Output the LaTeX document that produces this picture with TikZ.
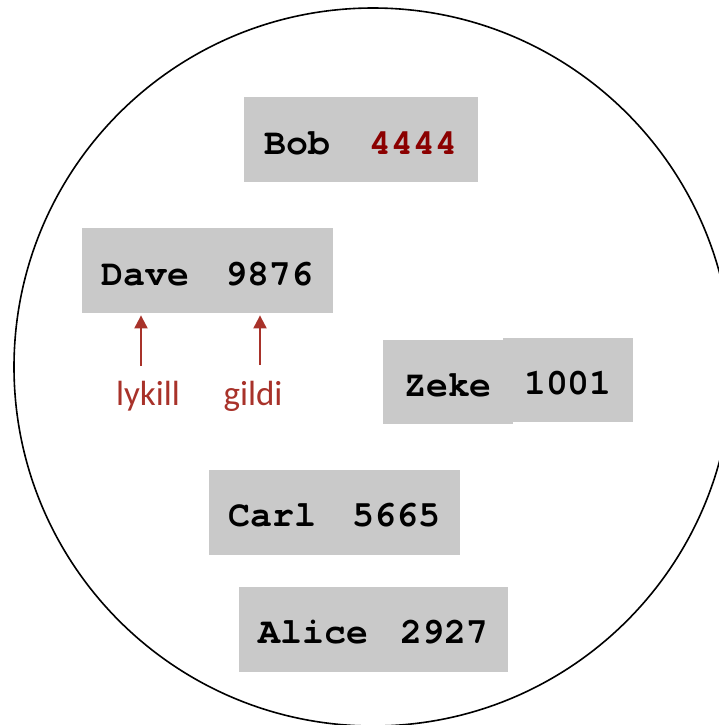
\documentclass[tikz,border=0pt]{standalone}
\usepackage{fontspec}
\setmonofont{texgyrecursor}[Extension=.otf, UprightFont=*-regular, BoldFont=*-bold]
\setsansfont{Carlito}
\usetikzlibrary{arrows.meta,positioning}

\definecolor{boxgray}{RGB}{201,201,201}
\definecolor{valred}{RGB}{139,0,0}
\definecolor{notered}{RGB}{168,50,42}

\begin{document}
\begin{tikzpicture}[
  x=0.5pt, y=-0.5pt,
  entry/.style={fill=boxgray, inner sep=0pt, minimum height=42.5pt,
                text height=14.5pt, text depth=0pt,
                font=\ttfamily\bfseries\fontsize{18.3pt}{22pt}\selectfont},
  note/.style={text=notered, inner sep=0pt, anchor=base,
               font=\sffamily\fontsize{17.5pt}{20pt}\selectfont},
  arrow/.style={-{Triangle[length=6.5pt,width=6.5pt]}, draw=notered, line width=1pt}
]
\useasboundingbox (0,0) rectangle (719,725);
\clip (0,0) rectangle (719,725);

% the set
\draw[line width=0.8pt] (373,367) circle[radius=179.5pt];

% entries
\node[entry, minimum width=117pt] (bob) at (361,139.5)
  {Bob\hspace{1.08em}\textcolor{valred}{4444}};
\node[entry, minimum width=125.5pt] (dave) at (207.5,270.5)
  {Dave\hspace{1em}9876};
\node[entry, minimum width=65pt, minimum height=42pt] (zeke) at (448,382) {Zeke};
\node[entry, minimum width=65pt, minimum height=42pt] (zekeval) at (568,379.5) {1001};
\node[entry, minimum width=125.5pt] (carl) at (334.5,512)
  {Carl\hspace{1em}5665};
\node[entry, minimum width=134.5pt] (alice) at (373.5,629)
  {Alice\hspace{0.87em}2927};

% key / value labels
\node[note] (lykill) at (148,405) {lykill};
\node[note] (gildi) at (253,405) {gildi};
\coordinate (keytail) at (141,366);
\coordinate (valtail) at (260,365);

\draw[arrow, shorten >=1pt] (keytail) -- (keytail |- dave.south);
\draw[arrow, shorten >=1pt] (valtail) -- (valtail |- dave.south);
\end{tikzpicture}
\end{document}
